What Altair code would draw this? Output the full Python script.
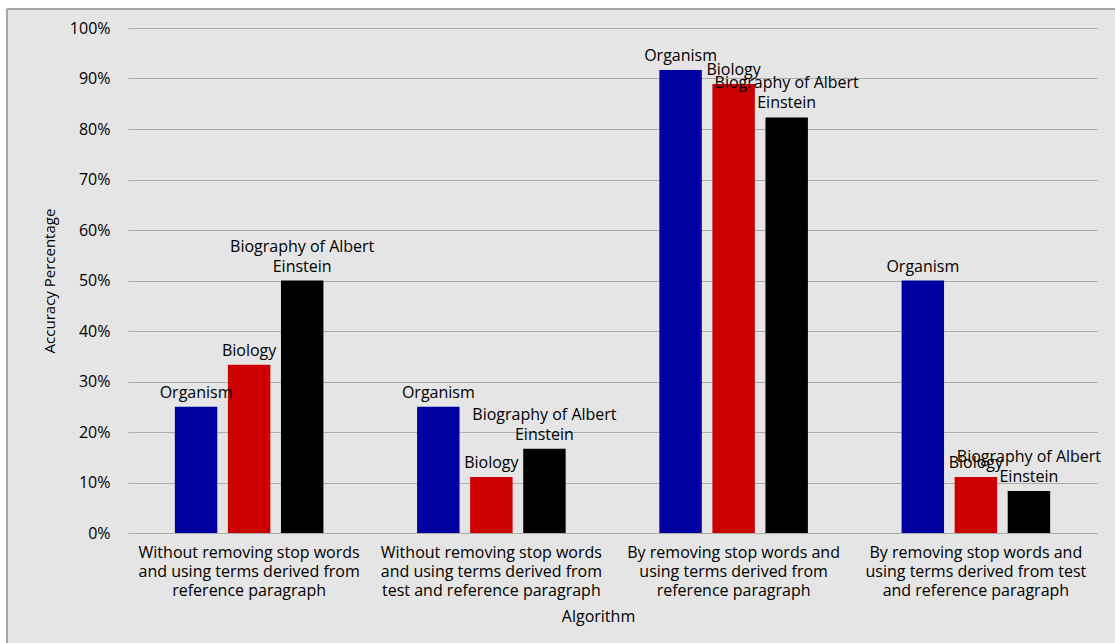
import altair as alt
import pandas as pd

categories = [
    "Without removing stop words\nand using terms derived from\nreference paragraph",
    "Without removing stop words\nand using terms derived from\ntest and reference paragraph",
    "By removing stop words and\nusing terms derived from\nreference paragraph",
    "By removing stop words and\nusing terms derived from test\nand reference paragraph",
]
series = ["Organism", "Biology", "Biography of Albert Einstein"]
label_upper = ["", "", "Biography of Albert"]
label_lower = ["Organism", "Biology", "Einstein"]
colors = ["#0000a0", "#cc0000", "#000000"]

organism = [25.0, 25.0, 91.7, 50.0]
biology = [33.3, 11.1, 88.9, 11.1]
einstein = [50.0, 16.7, 82.3, 8.3]

y_ticks = [0, 0.1, 0.2, 0.3, 0.4, 0.5, 0.6, 0.7, 0.8, 0.9, 1.0]

rows = []
for i, c in enumerate(categories):
    for s, up, lo, vals in zip(series, label_upper, label_lower, [organism, biology, einstein]):
        rows.append({"Algorithm": c, "Series": s, "Upper": up, "Lower": lo, "Value": vals[i] / 100})
df = pd.DataFrame(rows)

FONT = "Open Sans"
LBL = 16

x = alt.X(
    "Algorithm:N",
    sort=categories,
    scale=alt.Scale(paddingInner=0, paddingOuter=0),
    axis=alt.Axis(
        labelExpr="split(datum.label, '\\n')",
        labelAngle=0,
        labelLimit=0,
        ticks=False,
        domain=False,
        labelPadding=11,
        labelLineHeight=19,
        labelFontSize=LBL,
        labelFont=FONT,
        labelColor="#000000",
        title="Algorithm",
        titleFont=FONT,
        titleFontSize=16,
        titleFontWeight="normal",
        titleColor="#000000",
        titleX=470,
        titleY=83,
        titleBaseline="middle",
    ),
)
xoff = alt.XOffset(
    "Series:N", sort=series, scale=alt.Scale(paddingInner=0.2, paddingOuter=0.883)
)
y = alt.Y(
    "Value:Q",
    scale=alt.Scale(domain=[0, 1]),
    axis=alt.Axis(
        format=".0%",
        values=y_ticks,
        title="Accuracy Percentage",
        titleFont=FONT,
        titleFontSize=15,
        titleFontWeight="normal",
        titleColor="#000000",
        titlePadding=12,
        labelFont=FONT,
        labelFontSize=16,
        labelColor="#000000",
        labelPadding=18,
        ticks=False,
        domain=False,
        gridColor="#ababab",
        gridWidth=1,
    ),
)

# decorative frame: white margin strips and grey border at top and left
strip_left = alt.Chart(df).mark_rect(fill="#ffffff").encode(
    x=alt.value(-130), x2=alt.value(-121), y=alt.value(-30), y2=alt.value(620)
)
strip_top = alt.Chart(df).mark_rect(fill="#ffffff").encode(
    x=alt.value(-130), x2=alt.value(1000), y=alt.value(-30), y2=alt.value(-19)
)
line_left = alt.Chart(df).mark_rule(color="#a6a6a6", strokeWidth=2).encode(
    x=alt.value(-121), y=alt.value(-19), y2=alt.value(620)
)
line_top = alt.Chart(df).mark_rule(color="#a6a6a6", strokeWidth=2).encode(
    x=alt.value(-121), x2=alt.value(1000), y=alt.value(-19)
)

bars = alt.Chart(df).mark_bar().encode(
    x=x,
    xOffset=xoff,
    y=y,
    color=alt.Color(
        "Series:N", sort=series, scale=alt.Scale(domain=series, range=colors), legend=None
    ),
)

text_style = dict(baseline="bottom", font=FONT, fontSize=LBL, color="#000000")
lower = alt.Chart(df).mark_text(dy=-6, **text_style).encode(
    x=x, xOffset=xoff, y=y, text="Lower:N"
)
upper = alt.Chart(df).mark_text(dy=-26, **text_style).encode(
    x=x, xOffset=xoff, y=y, text="Upper:N"
)

chart = (
    alt.layer(strip_left, strip_top, line_left, line_top, bars, lower, upper)
    .properties(
        width=969,
        height=505,
        padding={"left": 128, "top": 28, "right": 18, "bottom": 110},
        autosize=alt.AutoSizeParams(type="none"),
        background="#e5e5e5",
    )
    .configure_view(stroke=None)
)

chart.save("out.html", embed_options={"renderer": "svg", "actions": False})
